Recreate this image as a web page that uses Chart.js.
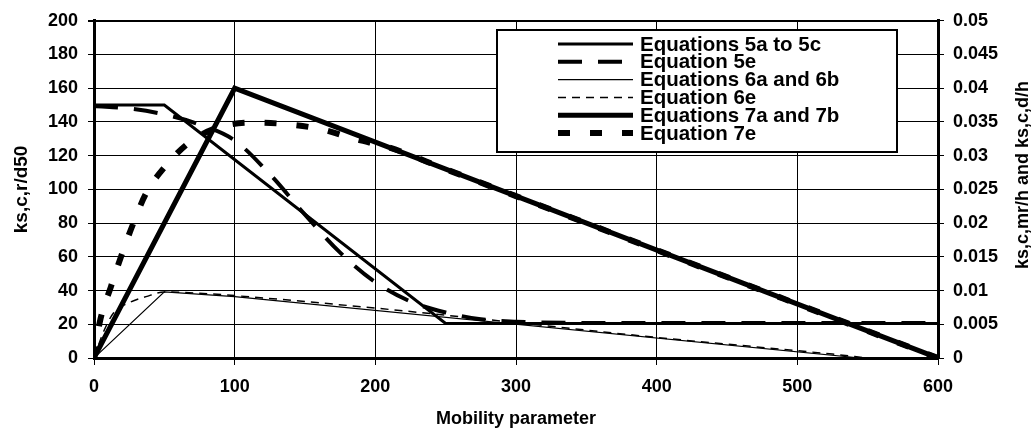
<!DOCTYPE html>
<html>
<head>
<meta charset="utf-8">
<script src="https://cdn.jsdelivr.net/npm/chart.js@4.4.1/dist/chart.umd.min.js"></script>
<style>
  html, body { margin: 0; padding: 0; background: #fff; }
  #wrap { width: 1036px; height: 433px; }
</style>
</head>
<body>
<div id="wrap"><canvas id="chart" width="1036" height="433"></canvas></div>
<script>
// tick labels
const xTickLabels = ['0', '100', '200', '300', '400', '500', '600'];
const leftTickLabels = ['0', '20', '40', '60', '80', '100', '120', '140', '160', '180', '200'];
const rightTickLabels = ['0', '0.005', '0.01', '0.015', '0.02', '0.025', '0.03', '0.035', '0.04', '0.045', '0.05'];

// ks,c,r/d50 (left axis)
const eq5acX = [0, 50, 250, 600];
const eq5acY = [150, 150, 20.5, 20.5];
const eq5eX = [0, 25, 50, 75, 100, 125, 150, 175, 200, 225, 250, 275, 300, 350, 600];
const eq5eY = [149.5, 148, 144.5, 138.5, 129, 109, 85, 62.5, 45, 33.5, 27, 23, 21.5, 20.8, 20.8];

// ks,c,mr/h and ks,c,d/h (right axis)
const eq6abX = [0, 50, 100, 545];
const eq6abY = [0, 0.0098, 0.0091, 0];
const eq6eX = [0, 7, 14, 25, 37, 50, 75, 100, 200, 300, 400, 500, 525, 550];
const eq6eY = [0, 0.004, 0.0067, 0.0082, 0.0091, 0.0098, 0.0096, 0.00925, 0.0074, 0.00525, 0.00305, 0.00108, 0.00058, 0];
const eq7abX = [0, 100, 600];
const eq7abY = [0, 0.04, 0];
const eq7eX = [0, 4, 12, 20, 28, 37, 50, 68, 90, 113, 138, 162, 186, 210, 250, 300, 400, 500, 600];
const eq7eY = [0, 0.0052, 0.01055, 0.0155, 0.02, 0.0244, 0.02825, 0.032, 0.0343, 0.0349, 0.03465, 0.0339, 0.03245, 0.0312, 0.028, 0.024, 0.016, 0.008, 0];

const FONT = "'Liberation Sans', Arial, sans-serif";

function pts(xs, ys) {
  return xs.map((x, i) => ({ x: x, y: ys[i] }));
}

// framed legend inside the plot, like the original
const boxLegend = {
  id: 'boxLegend',
  afterDatasetsDraw(chart) {
    const ctx = chart.ctx;
    const left = 497, top = 30, w = 400, h = 122;
    ctx.save();
    ctx.fillStyle = '#fff';
    ctx.fillRect(left, top, w, h);
    ctx.strokeStyle = '#000';
    ctx.lineWidth = 2;
    ctx.strokeRect(left, top, w, h);
    ctx.font = 'bold 20.5px ' + FONT;
    ctx.textBaseline = 'middle';
    ctx.fillStyle = '#000';
    chart.data.datasets.forEach((ds, i) => {
      const y = top + 15 + i * 17.8;
      ctx.beginPath();
      ctx.lineWidth = ds.borderWidth;
      ctx.setLineDash(ds.borderDash || []);
      ctx.moveTo(558, y - 1);
      ctx.lineTo(633, y - 1);
      ctx.stroke();
      ctx.setLineDash([]);
      ctx.fillText(ds.label, 640, y);
    });
    ctx.restore();
  }
};

// right axis title reads bottom-to-top
const rightTitle = {
  id: 'rightTitle',
  afterDraw(chart) {
    const ctx = chart.ctx;
    ctx.save();
    ctx.translate(1023, 175);
    ctx.rotate(-Math.PI / 2);
    ctx.font = 'bold 18px ' + FONT;
    ctx.fillStyle = '#000';
    ctx.textAlign = 'center';
    ctx.textBaseline = 'middle';
    ctx.fillText('ks,c,mr/h and ks,c,d/h', 0, 0);
    ctx.restore();
  }
};

const ctx = document.getElementById('chart').getContext('2d');

new Chart(ctx, {
  type: 'line',
  data: {
    datasets: [
      { label: 'Equations 5a to 5c', data: pts(eq5acX, eq5acY), yAxisID: 'y',
        borderColor: '#000', borderWidth: 3, tension: 0 },
      { label: 'Equation 5e', data: pts(eq5eX, eq5eY), yAxisID: 'y',
        borderColor: '#000', borderWidth: 4, borderDash: [24, 16], cubicInterpolationMode: 'monotone' },
      { label: 'Equations 6a and 6b', data: pts(eq6abX, eq6abY), yAxisID: 'y2',
        borderColor: '#000', borderWidth: 1.2, tension: 0 },
      { label: 'Equation 6e', data: pts(eq6eX, eq6eY), yAxisID: 'y2',
        borderColor: '#000', borderWidth: 1.5, borderDash: [8, 6], cubicInterpolationMode: 'monotone' },
      { label: 'Equations 7a and 7b', data: pts(eq7abX, eq7abY), yAxisID: 'y2',
        borderColor: '#000', borderWidth: 5, tension: 0 },
      { label: 'Equation 7e', data: pts(eq7eX, eq7eY), yAxisID: 'y2',
        borderColor: '#000', borderWidth: 6, borderDash: [12, 20], cubicInterpolationMode: 'monotone' }
    ]
  },
  options: {
    responsive: false,
    animation: false,
    devicePixelRatio: 1,
    layout: { padding: { top: 19, right: 0, bottom: 0, left: 0 } },
    elements: { point: { radius: 0 }, line: { fill: false, borderCapStyle: 'butt' } },
    plugins: { legend: { display: false }, tooltip: { enabled: false } },
    scales: {
      x: {
        type: 'linear', min: 0, max: 600,
        ticks: { stepSize: 100, color: '#000', padding: 11, font: { family: FONT, size: 18, weight: 'bold' },
                 callback: (v, i) => xTickLabels[i] },
        grid: { color: '#000', lineWidth: 1, tickLength: 7 },
        border: { display: true, color: '#000', width: 3 },
        title: { display: true, text: 'Mobility parameter', color: '#000',
                 font: { family: FONT, size: 18, weight: 'bold' }, padding: { top: 0, bottom: 3 } },
        afterFit: s => { s.height = 75; }
      },
      y: {
        position: 'left', min: 0, max: 200,
        ticks: { stepSize: 20, color: '#000', padding: 10, font: { family: FONT, size: 18, weight: 'bold' },
                 callback: (v, i) => leftTickLabels[i] },
        grid: { color: '#000', lineWidth: c => (c.tick && c.tick.value === 200 ? 2 : 1), tickLength: 6 },
        border: { display: true, color: '#000', width: 3 },
        title: { display: true, text: 'ks,c,r/d50', color: '#000',
                 font: { family: FONT, size: 19, weight: 'bold' }, padding: { top: 10, bottom: 0 } },
        afterFit: s => { s.width = 94; }
      },
      y2: {
        position: 'right', min: 0, max: 0.05,
        ticks: { stepSize: 0.005, color: '#000', padding: 9, font: { family: FONT, size: 18, weight: 'bold' },
                 callback: (v, i) => rightTickLabels[i] },
        grid: { drawOnChartArea: false, color: '#000', tickLength: 6 },
        border: { display: true, color: '#000', width: 3 },
        afterFit: s => { s.width = 98; }
      }
    }
  },
  plugins: [boxLegend, rightTitle]
});
</script>
</body>
</html>
